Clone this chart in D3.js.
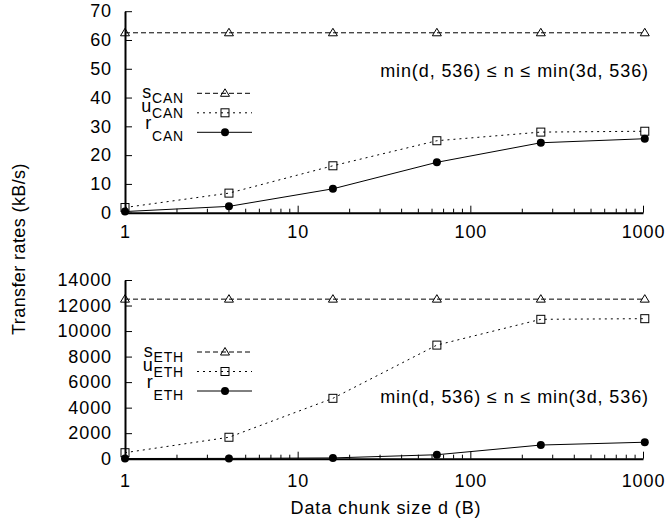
<html>
  <head>
    <script src="https://d3js.org/d3.v7.min.js"></script>
    <style>
      body { margin: 0; background: #fff; }
      text { font-family: "Liberation Sans", Arial, sans-serif; font-size: 18px; fill: #000; }
    </style>
  </head>
  <body>
    <svg id="graph" width="670" height="525"></svg>
    <script>
      // data chunk sizes (x) and tick labels
      const chunkSizes = [1, 4, 16, 64, 256, 1024];
      const xTicks = [1, 10, 100, 1000];
      const xMinorTicks = [2, 3, 4, 5, 6, 7, 8, 9, 20, 30, 40, 50, 60, 70, 80, 90, 200, 300, 400, 500, 600, 700, 800, 900];

      // CAN panel (kB/s)
      const sCan = [62.5, 62.5, 62.5, 62.5, 62.5, 62.5];
      const uCan = [1.8, 6.8, 16.3, 25.0, 28.0, 28.3];
      const rCan = [0.4, 2.2, 8.3, 17.5, 24.3, 25.7];
      const canTicks = [0, 10, 20, 30, 40, 50, 60, 70];

      // ETH panel (kB/s)
      const sEth = [12500, 12500, 12500, 12500, 12500, 12500];
      const uEth = [470, 1680, 4730, 8900, 10920, 10970];
      const rEth = [15, 25, 60, 310, 1070, 1290];
      const ethTicks = [0, 2000, 4000, 6000, 8000, 10000, 12000, 14000];

      const annotation = "min(d, 536) \u2264 n \u2264 min(3d, 536)";
      const yLabel = "Transfer rates (kB/s)";
      const xLabel = "Data chunk size d (B)";

      const svg = d3.select("#graph");
      const xScale = d3.scaleLog().domain([1, 1000]).range([125, 643]);

      const styles = {
        s: { dash: "5,3", marker: "triangle", main: 4.5, sub: 5.5 },
        u: { dash: "2,4", marker: "square", main: -0.5, sub: 6 },
        r: { dash: null, marker: "circle", main: -3, sub: 12 },
      };

      function drawMarker(g, type, x, y) {
        if (type === "triangle") {
          g.append("path")
            .attr("d", `M${x},${y - 4.5}L${x + 4.5},${y + 3}L${x - 4.5},${y + 3}Z`)
            .attr("fill", "none").attr("stroke", "#000").attr("stroke-width", 1);
        } else if (type === "square") {
          g.append("rect")
            .attr("x", x - 4).attr("y", y - 4).attr("width", 8).attr("height", 8)
            .attr("fill", "none").attr("stroke", "#000").attr("stroke-width", 1);
        } else {
          g.append("circle").attr("cx", x).attr("cy", y).attr("r", 4).attr("fill", "#000");
        }
      }

      function drawPanel(p) {
        const yScale = d3.scaleLinear().domain(p.domain).range(p.range);
        const g = svg.append("g");
        const y0 = yScale(0);

        // y axis
        const ya = g.append("g")
          .attr("transform", `translate(${xScale(1)},0)`)
          .call(d3.axisLeft(yScale).tickValues(p.ticks).tickSize(-7).tickSizeOuter(0).tickPadding(13).tickFormat(d3.format("d")));
        // x axis
        const xa = g.append("g")
          .attr("transform", `translate(0,${y0})`)
          .call(d3.axisBottom(xScale).tickValues(xTicks).tickSize(-7).tickSizeOuter(0).tickPadding(p.xPad).tickFormat(d3.format("d")));
        xa.selectAll(".minor")
          .data(xMinorTicks)
          .enter()
          .append("line")
          .attr("class", "minor")
          .attr("x1", (d) => xScale(d)).attr("x2", (d) => xScale(d))
          .attr("y1", 0).attr("y2", -4)
          .attr("stroke", "#000");
        [ya, xa].forEach((a) => {
          a.select(".domain").attr("stroke-width", 2);
          a.selectAll("text").style("letter-spacing", "0.9px");
        });

        // series
        p.series.forEach((s) => {
          const st = styles[s.key];
          const pts = chunkSizes.map((c, i) => [xScale(c), yScale(s.values[i])]);
          g.append("path")
            .attr("d", d3.line()(pts))
            .attr("fill", "none")
            .attr("stroke", "#000")
            .attr("stroke-width", 1)
            .attr("stroke-dasharray", st.dash);
          pts.forEach((pt) => drawMarker(g, st.marker, pt[0], pt[1]));
        });

        // legend
        p.series.forEach((s, i) => {
          const st = styles[s.key];
          const ly = p.legendY + i * 19.5;
          g.append("line")
            .attr("x1", 197).attr("x2", 252).attr("y1", ly).attr("y2", ly)
            .attr("stroke", "#000").attr("stroke-width", 1)
            .attr("stroke-dasharray", st.dash);
          drawMarker(g, st.marker, 225, ly);
          const t = g.append("text")
            .attr("x", 184).attr("y", ly + st.main)
            .attr("text-anchor", "end")
            .style("letter-spacing", "0.8px");
          t.append("tspan").text(s.key);
          t.append("tspan").attr("dy", st.sub).attr("font-size", 14).text(p.sub);
        });

        g.append("text")
          .attr("x", 649).attr("y", p.noteY)
          .attr("text-anchor", "end")
          .style("letter-spacing", "0.9px")
          .text(annotation);
      }

      drawPanel({
        domain: [0, 70], range: [212.7, 11.2], ticks: canTicks, xPad: 12.8,
        sub: "CAN", legendY: 93.3, noteY: 76.7,
        series: [
          { key: "s", values: sCan },
          { key: "u", values: uCan },
          { key: "r", values: rCan },
        ],
      });
      drawPanel({
        domain: [0, 14000], range: [458.7, 280], ticks: ethTicks, xPad: 15.2,
        sub: "ETH", legendY: 352, noteY: 402.7,
        series: [
          { key: "s", values: sEth },
          { key: "u", values: uEth },
          { key: "r", values: rEth },
        ],
      });

      svg.append("text")
        .attr("transform", "translate(25,249) rotate(-90)")
        .attr("text-anchor", "middle")
        .style("letter-spacing", "0.4px")
        .text(yLabel);
      svg.append("text")
        .attr("x", 386).attr("y", 514)
        .attr("text-anchor", "middle")
        .style("letter-spacing", "0.9px")
        .text(xLabel);
    </script>
  </body>
</html>
